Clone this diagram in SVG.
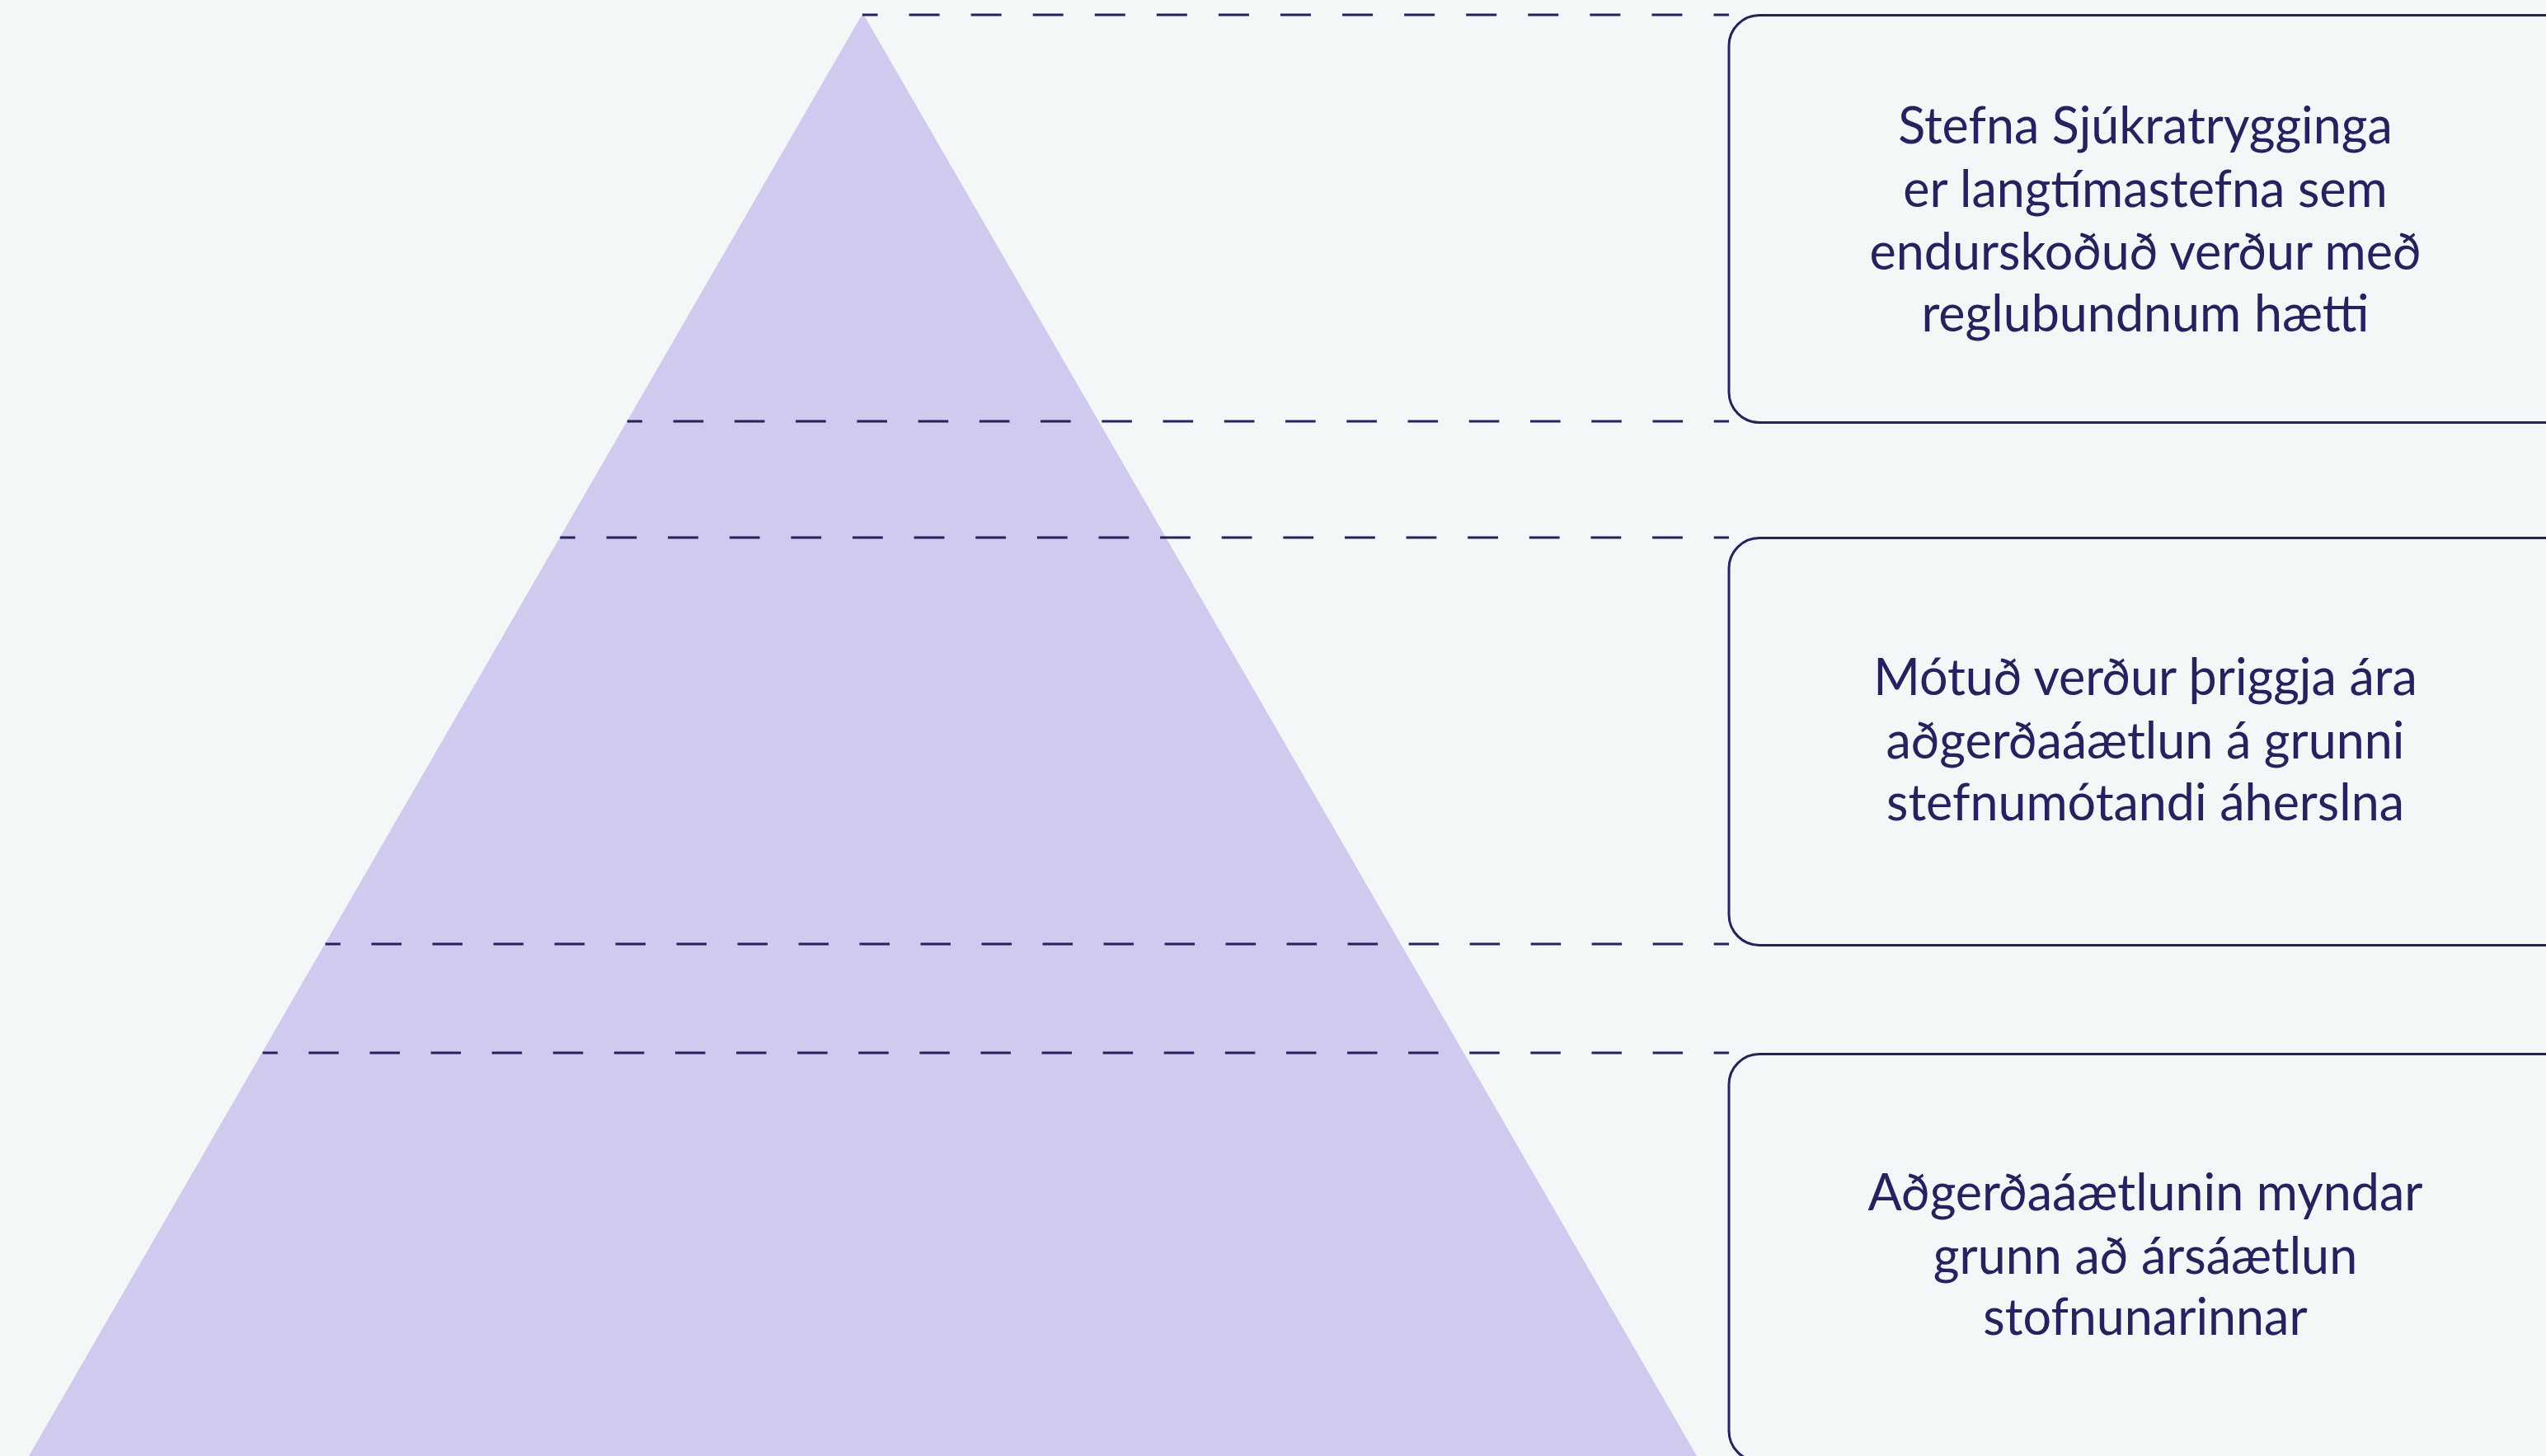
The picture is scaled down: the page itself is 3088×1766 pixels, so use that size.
<svg xmlns="http://www.w3.org/2000/svg" width="3088" height="1766" viewBox="0 0 3088 1766">
<style>
.bg{fill:#f3f7f8}
.tri{fill:#d0cbee}
.dash{stroke:#27215f;stroke-width:3;fill:none}
.box{fill:none;stroke:#27215f;stroke-width:3}
.lbl{font-family:Lato,"Open Sans","Liberation Sans",sans-serif;font-size:61px;fill:#27215f;text-anchor:middle}
</style>
<rect class="bg" x="0" y="0" width="3088" height="1766"/>
<g id="pyramid">
<polygon class="tri" points="1046.5,16 35,1766 2058,1766"/>
</g>
<g id="connectors">
<line class="dash" x1="1046" y1="18" x2="2097" y2="18" stroke-dasharray="37 38.07" stroke-dashoffset="18.5"/>
<line class="dash" x1="760.7" y1="511" x2="2097" y2="511" stroke-dasharray="36.6 37.64" stroke-dashoffset="18.3"/>
<line class="dash" x1="679.3" y1="652" x2="2097" y2="652" stroke-dasharray="36.8 37.82" stroke-dashoffset="18.4"/>
<line class="dash" x1="394.7" y1="1145" x2="2097" y2="1145" stroke-dasharray="36.5 37.51" stroke-dashoffset="18.25"/>
<line class="dash" x1="318.5" y1="1277" x2="2097" y2="1277" stroke-dasharray="36.5 37.6" stroke-dashoffset="18.25"/>
</g>
<g id="box1">
<rect class="box" x="2097" y="18.5" width="1100" height="494" rx="37" ry="37"/>
<text class="lbl" x="2602" y="174">Stefna Sjúkratrygginga</text>
<text class="lbl" x="2602" y="251">er langtímastefna sem</text>
<text class="lbl" x="2602" y="327">endurskoðuð verður með</text>
<text class="lbl" x="2602" y="402">reglubundnum hætti</text>
</g>
<g id="box2">
<rect class="box" x="2097" y="652.5" width="1100" height="494" rx="37" ry="37"/>
<text class="lbl" x="2602" y="843">Mótuð verður þriggja ára</text>
<text class="lbl" x="2602" y="920">aðgerðaáætlun á grunni</text>
<text class="lbl" x="2602" y="995">stefnumótandi áherslna</text>
</g>
<g id="box3">
<rect class="box" x="2097" y="1278.5" width="1100" height="494" rx="37" ry="37"/>
<text class="lbl" x="2602" y="1468">Aðgerðaáætlunin myndar</text>
<text class="lbl" x="2602" y="1545">grunn að ársáætlun</text>
<text class="lbl" x="2602" y="1619">stofnunarinnar</text>
</g>
</svg>
